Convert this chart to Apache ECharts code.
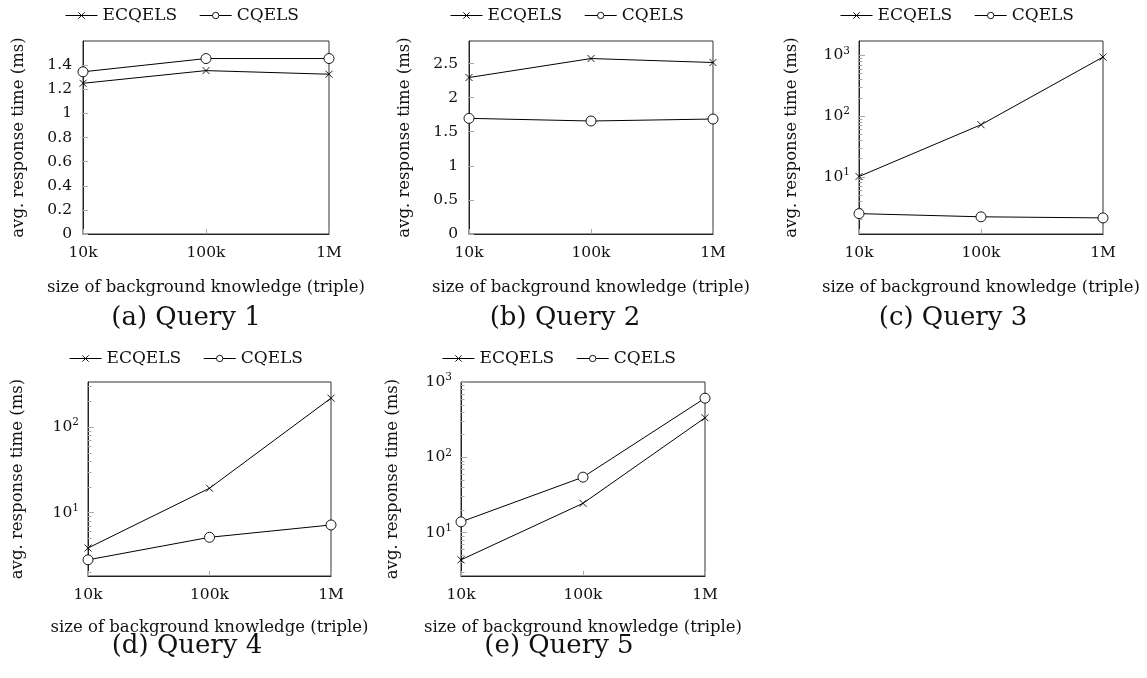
<!DOCTYPE html>
<html>
<head>
<meta charset="utf-8">
<script src="https://cdn.jsdelivr.net/npm/echarts@6/dist/echarts.min.js"></script>
<style>
html,body{margin:0;padding:0;background:#fff;}
#chart{width:1147px;height:678px;}
</style>
</head>
<body>
<div id="chart"></div>
<script>
// ---- data ----
const xCategories = ['10k', '100k', '1M'];
const seriesNames = ['ECQELS', 'CQELS'];
const captions = ['(a) Query 1', '(b) Query 2', '(c) Query 3', '(d) Query 4', '(e) Query 5'];
const q1Ecqels = [1.25, 1.355, 1.325];
const q1Cqels = [1.345, 1.455, 1.455];
const q2Ecqels = [2.295, 2.573, 2.515];
const q2Cqels = [1.696, 1.657, 1.686];
const q3Ecqels = [10.1, 72, 937];
const q3Cqels = [2.47, 2.19, 2.1];
const q4Ecqels = [3.85, 19.3, 219];
const q4Cqels = [2.8, 5.14, 7.17];
const q5Ecqels = [4.35, 24.5, 336];
const q5Cqels = [13.9, 54.6, 612];
const q1Ticks = [0, 0.2, 0.4, 0.6, 0.8, 1, 1.2, 1.4];
const q2Ticks = [0, 0.5, 1, 1.5, 2, 2.5];
const logMajorTicks = [1, 10, 100, 1000];

const xName = 'size of background knowledge (triple)';
const yName = 'avg. response time (ms)';
const FONT = 'DejaVu Serif';

// ---- layout ----
const panels = [
  {ecq: q1Ecqels, cq: q1Cqels, log: false, ticks: q1Ticks, grid: {left: 83, top: 41, width: 246, height: 193}, legend: {left: 65, top: 7}, cap: [181, 315], yGap: 56, xGap: 45},
  {ecq: q2Ecqels, cq: q2Cqels, log: false, ticks: q2Ticks, grid: {left: 469, top: 41, width: 244, height: 193}, legend: {left: 450, top: 7}, cap: [560, 315], yGap: 56, xGap: 45},
  {ecq: q3Ecqels, cq: q3Cqels, log: true, grid: {left: 859, top: 41, width: 244, height: 193}, legend: {left: 840, top: 7}, cap: [948, 315], yGap: 59, xGap: 45},
  {ecq: q4Ecqels, cq: q4Cqels, log: true, grid: {left: 88, top: 382, width: 243, height: 194}, legend: {left: 69, top: 350}, cap: [182, 643], yGap: 62, xGap: 43},
  {ecq: q5Ecqels, cq: q5Cqels, log: true, grid: {left: 461, top: 382, width: 244, height: 194}, legend: {left: 442, top: 350}, cap: [554, 643], yGap: 60, xGap: 43}
];

function linearExtent(vals) {
  const mx = Math.max.apply(null, vals);
  return [0, mx * 1.1];
}
function logExtent(vals) {
  const l = vals.map(v => Math.log10(v));
  const a = Math.min.apply(null, l), b = Math.max.apply(null, l);
  const r = b - a;
  return [Math.pow(10, a - 0.1 * r), Math.pow(10, b + 0.1 * r)];
}
function minorLogTicks(ext) {
  const out = [];
  for (let d = -1; d <= 4; d++) {
    for (let k = 2; k <= 9; k++) {
      const v = k * Math.pow(10, d);
      if (v > ext[0] && v < ext[1]) out.push(v);
    }
  }
  return out;
}

const textBase = {fontFamily: FONT, color: '#111'};
const crossPath = 'path://M0,0L10,10M0,10L10,0';

const grids = [], xAxes = [], yAxes = [], series = [], legends = [], titles = [];
panels.forEach((p, i) => {
  grids.push(Object.assign({show: true, borderColor: '#333', borderWidth: 1, containLabel: false}, p.grid));
  xAxes.push({
    type: 'category', gridIndex: i, data: xCategories, boundaryGap: false,
    axisLine: {show: true, lineStyle: {color: '#222', width: 1}},
    axisTick: {show: true, inside: true, length: 5, lineStyle: {color: '#aaa'}},
    axisLabel: Object.assign({fontSize: 15.5, margin: 11}, textBase),
    splitLine: {show: false},
    name: xName, nameLocation: 'middle', nameGap: p.xGap,
    nameTextStyle: Object.assign({fontSize: 16.5}, textBase)
  });
  const allVals = p.ecq.concat(p.cq);
  const mainIdx = yAxes.length;
  if (!p.log) {
    const ext = linearExtent(allVals);
    yAxes.push({
      type: 'value', gridIndex: i, min: ext[0], max: ext[1], position: 'left',
      axisLine: {show: true, lineStyle: {color: '#222', width: 1}},
      axisTick: {show: true, inside: true, length: 5, customValues: p.ticks, lineStyle: {color: '#aaa'}},
      axisLabel: Object.assign({fontSize: 15.5, margin: 11, customValues: p.ticks, formatter: v => String(v)}, textBase),
      splitLine: {show: false},
      name: yName, nameLocation: 'middle', nameGap: p.yGap,
      nameTextStyle: Object.assign({fontSize: 16.5}, textBase)
    });
  } else {
    const ext = logExtent(allVals);
    const majors = logMajorTicks.filter(v => v >= ext[0] * 0.999 && v <= ext[1] * 1.001);
    yAxes.push({
      type: 'log', logBase: 10, gridIndex: i, min: ext[0], max: ext[1], position: 'left',
      axisLine: {show: true, lineStyle: {color: '#222', width: 1}},
      axisTick: {show: true, inside: true, length: 6, customValues: majors, lineStyle: {color: '#aaa'}},
      axisLabel: Object.assign({
        fontSize: 15.5, margin: 9, customValues: majors,
        formatter: v => '10{sup|' + Math.round(Math.log10(v)) + '}',
        rich: {sup: {fontSize: 10.5, fontFamily: FONT, color: '#111', padding: [0, 0, 9, 0]}}
      }, textBase),
      splitLine: {show: false},
      name: yName, nameLocation: 'middle', nameGap: p.yGap,
      nameTextStyle: Object.assign({fontSize: 16.5}, textBase)
    });
    yAxes.push({
      type: 'log', logBase: 10, gridIndex: i, min: ext[0], max: ext[1], position: 'left', offset: 0,
      axisLine: {show: false},
      axisTick: {show: true, inside: true, length: 3.5, customValues: minorLogTicks(ext), lineStyle: {color: '#aaa'}},
      axisLabel: {show: false},
      splitLine: {show: false}
    });
  }
  series.push({
    name: 'ECQELS', type: 'line', xAxisIndex: i, yAxisIndex: mainIdx, data: p.ecq,
    symbol: crossPath, symbolSize: 7, symbolKeepAspect: true,
    itemStyle: {color: '#000', borderColor: '#000', borderWidth: 0.9},
    lineStyle: {color: '#000', width: 1}, silent: true, animation: false
  });
  series.push({
    name: 'CQELS', type: 'line', xAxisIndex: i, yAxisIndex: mainIdx, data: p.cq,
    symbol: 'circle', symbolSize: 10,
    itemStyle: {color: '#fff', borderColor: '#000', borderWidth: 0.9},
    lineStyle: {color: '#000', width: 1}, silent: true, animation: false
  });
  legends.push({
    left: p.legend.left, top: p.legend.top, orient: 'horizontal', padding: 0,
    data: seriesNames, itemWidth: 32, itemHeight: 8, itemGap: 22,
    itemStyle: {borderWidth: 0.9},
    lineStyle: {width: 1},
    textStyle: Object.assign({fontSize: 17}, textBase),
    selectedMode: false
  });
  titles.push({
    text: captions[i], left: p.cap[0], top: p.cap[1] - 15, textAlign: 'center',
    textStyle: {fontFamily: FONT, fontSize: 26, fontWeight: 'normal', color: '#111'}
  });
});

const chart = echarts.init(document.getElementById('chart'), null, {renderer: 'canvas'});
chart.setOption({
  backgroundColor: '#fff',
  animation: false,
  title: titles,
  legend: legends,
  grid: grids,
  xAxis: xAxes,
  yAxis: yAxes,
  series: series
});
</script>
</body>
</html>
